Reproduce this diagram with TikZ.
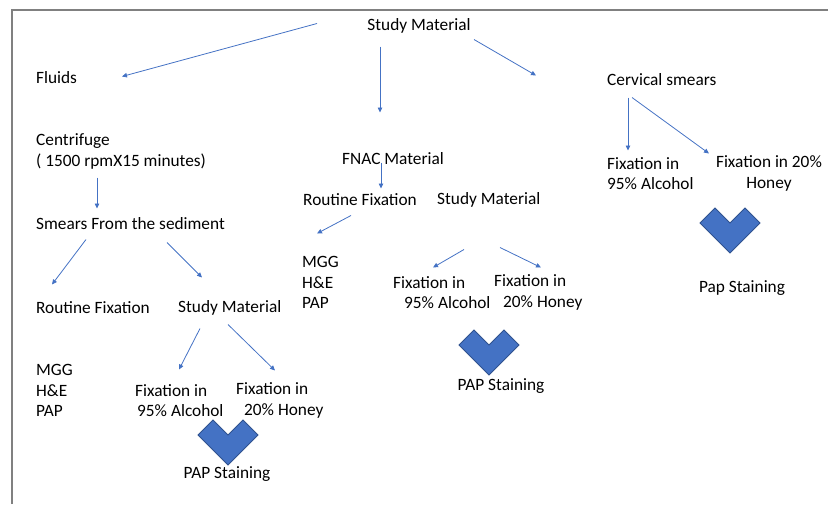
\documentclass[tikz,border=0pt]{standalone}
\usepackage{fontspec}
\setmainfont{Carlito}
\usepackage{tikz}
\usetikzlibrary{arrows.meta,positioning,calc}
\definecolor{arrowblue}{RGB}{68, 114, 196}
\definecolor{chevronedge}{RGB}{47, 82, 143}
\definecolor{framegray}{RGB}{128, 128, 128}

\begin{document}
\begin{tikzpicture}[x=1pt, y=-1pt]
    \tikzstyle{label} = [inner sep=0pt, yshift=-1.5pt, font=\fontsize{17.3}{20.5}\selectfont]
    \tikzstyle{flowarrow} = [line width=0.8pt, -{Triangle[length=5pt,width=4.5pt]}, arrowblue]
    \tikzstyle{chevron} = [fill=arrowblue, draw=chevronedge, line width=0.8pt, line join=miter]

    \useasboundingbox (0,0) rectangle (828,504);
    \draw[framegray, line width=2pt] (12,504) -- (12,10) -- (828,10);

    % top level
    \node[label] (top) at (419,24) {Study Material};
    \node[label, anchor=west] (fluids) at (36,76) {Fluids};
    \node[label, anchor=west] (cervical) at (607,78) {Cervical smears};

    % fluids branch
    \node[label, anchor=west, align=left] (centrifuge) at (36,150) {Centrifuge\\( 1500 rpmX15 minutes)};
    \node[label, anchor=west] (smears) at (36,222) {Smears From the sediment};
    \node[label, anchor=west] (lroutine) at (36,306) {Routine Fixation};
    \node[label, anchor=west] (lstudy) at (178,306) {Study Material};
    \node[label, anchor=west, align=left] (lstains) at (36,389) {MGG\\H\&E\\PAP};
    \node[label, anchor=west, align=left] (lfixalc) at (135,399) {Fixation in\\\hspace{2pt}95\% Alcohol};
    \node[label, anchor=west, align=left] (lfixhoney) at (236,399) {Fixation in\\\hspace{8pt}20\% Honey};
    \node[label] (lpap) at (227,473) {PAP Staining};

    % FNAC branch
    \node[label] (fnac) at (393,157) {FNAC Material};
    \node[label, anchor=west] (froutine) at (303,198) {Routine Fixation};
    \node[label, anchor=west] (fstudy) at (437,198) {Study Material};
    \node[label, anchor=west, align=left] (mstains) at (302,281) {MGG\\H\&E\\PAP};
    \node[label, anchor=west, align=left] (mfixalc) at (393,291) {Fixation in\\\hspace{11pt}95\% Alcohol};
    \node[label, anchor=west, align=left] (mfixhoney) at (494,291) {Fixation in\\\hspace{9pt}20\% Honey};
    \node[label] (mpap) at (501,385) {PAP Staining};

    % cervical branch
    \node[label, anchor=west, align=left] (cfixalc) at (607,172) {Fixation in\\95\% Alcohol};
    \node[label, align=center] (cfixhoney) at (769,172) {Fixation in 20\%\\Honey};
    \node[label] (cpap) at (742,287) {Pap Staining};

    \draw[flowarrow] ([shift={(-102,-2)}]top.center) -- ([shift={(86,-1)}]fluids.west);
    \draw[flowarrow] ([shift={(-39,21)}]top.center) -- ([shift={(-13,-46)}]fnac.center);
    \draw[flowarrow] ([shift={(55,14)}]top.center) -- ([shift={(-71,-4)}]cervical.west);

    \draw[flowarrow] ([shift={(61,26)}]centrifuge.west) -- ([shift={(61,-15)}]smears.west);
    \draw[flowarrow] ([shift={(50,16)}]smears.west) -- ([shift={(16,-23)}]lroutine.west);
    \draw[flowarrow] ([shift={(131,19)}]smears.west) -- ([shift={(24,-30)}]lstudy.west);
    \draw[flowarrow] ([shift={(22,21)}]lstudy.west) -- ([shift={(44,-31)}]lfixalc.west);
    \draw[flowarrow] ([shift={(50,17)}]lstudy.west) -- ([shift={(39,-30)}]lfixhoney.west);

    \draw[flowarrow] ([shift={(-12,4)}]fnac.center) -- ([shift={(78,-11)}]froutine.west);
    \draw[flowarrow] ([shift={(48,16)}]froutine.west) -- ([shift={(15,-49)}]mstains.west);
    \draw[flowarrow] ([shift={(27,50)}]fstudy.west) -- ([shift={(40,-25)}]mfixalc.west);
    \draw[flowarrow] ([shift={(63,48)}]fstudy.west) -- ([shift={(47,-25)}]mfixhoney.west);

    \draw[flowarrow] ([shift={(21,18)}]cervical.west) -- ([shift={(21,-23)}]cfixalc.west);
    \draw[flowarrow] ([shift={(25,18)}]cervical.west) -- ([shift={(-60,-20)}]cfixhoney.center);

    % merge marks
    \foreach \cx/\cy in {228/435, 489/345, 730/223}
        \draw[chevron] (\cx,\cy) -- ++(-15,-15) -- ++(-15,15) -- ++(30,30) -- ++(30,-30) -- ++(-15,-15) -- cycle;
\end{tikzpicture}
\end{document}
